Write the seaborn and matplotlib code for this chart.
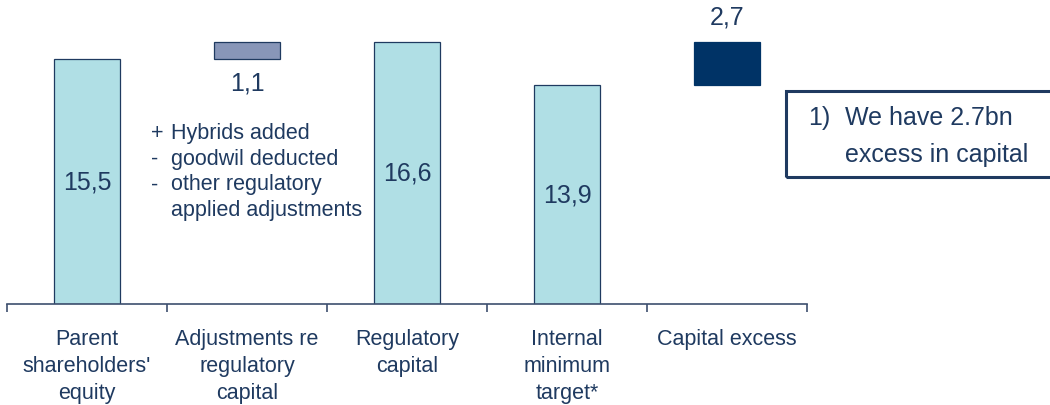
import matplotlib
matplotlib.use("Agg")
import matplotlib.pyplot as plt
from matplotlib.patches import Rectangle
import pandas as pd
import seaborn as sns

# Capital bridge (bn)
categories = ["Parent\nshareholders'\nequity", "Adjustments re\nregulatory\ncapital",
              "Regulatory\ncapital", "Internal\nminimum\ntarget*", "Capital excess"]
totals_cat = [categories[0], categories[2], categories[3]]
totals_val = [15.5, 16.6, 13.9]
adjust_val = 1.1
excess_val = 2.7
value_labels = ["15,5", "1,1", "16,6", "13,9", "2,7"]
adjust_notes = [("+", "Hybrids added"), ("-", "goodwil deducted"),
                ("-", "other regulatory"), ("", "applied adjustments")]
box_lines = ["We have 2.7bn", "excess in capital"]

NAVY = "#1F3A60"
LIGHT = "#B0DFE5"
MID = "#8896B8"
DARK = "#003366"

sns.set_theme(style="white")
plt.rcParams["font.family"] = ["Liberation Sans", "DejaVu Sans"]

fig = plt.figure(figsize=(10.5, 4.06), dpi=100)
ax = fig.add_axes([0.0067, 0.249, 0.762, 0.751])

totals = pd.DataFrame({"cat": totals_cat, "val": totals_val})
sns.barplot(data=totals, x="cat", y="val", order=categories, color=LIGHT,
            saturation=1, width=0.41, edgecolor=NAVY, linewidth=0.9, ax=ax)

adj_base = totals_val[0]
adj = pd.DataFrame({"cat": [categories[1]], "val": [adjust_val]})
sns.barplot(data=adj, x="cat", y="val", order=categories, color=MID,
            saturation=1, width=0.41, edgecolor=NAVY, linewidth=0.9,
            bottom=adj_base, ax=ax)

exc_base = totals_val[2]
exc = pd.DataFrame({"cat": [categories[4]], "val": [excess_val]})
sns.barplot(data=exc, x="cat", y="val", order=categories, color=DARK,
            saturation=1, width=0.41, edgecolor=DARK, linewidth=0.9,
            bottom=exc_base, ax=ax)

ax.set_xlim(-0.5, 4.5)
ax.set_ylim(0, 19.33)
ax.set_xlabel("")
ax.set_ylabel("")
ax.set_yticks([])

# category labels on minor ticks, boundary ticks on major
ax.set_xticks([-0.5, 0.5, 1.5, 2.5, 3.5, 4.5])
ax.set_xticklabels([])
ax.set_xticks(range(len(categories)), minor=True)
ax.set_xticklabels(categories, minor=True, fontsize=15.5, color=NAVY,
                   linespacing=1.38, va="top")
ax.tick_params(axis="x", which="major", direction="out", length=6,
               width=1.2, color="#3D4F6E", bottom=True)
ax.tick_params(axis="x", which="minor", length=0, pad=17)

for side in ["top", "right", "left"]:
    ax.spines[side].set_visible(False)
ax.spines["bottom"].set_color("#3D4F6E")
ax.spines["bottom"].set_linewidth(1.2)

# value labels
ax.text(0, totals_val[0] / 2, value_labels[0], ha="center", va="center",
        fontsize=18, color=NAVY)
ax.text(1, adj_base - 1.45, value_labels[1], ha="center", va="center",
        fontsize=18, color=NAVY)
ax.text(2, totals_val[1] / 2, value_labels[2], ha="center", va="center",
        fontsize=18, color=NAVY)
ax.text(3, totals_val[2] / 2, value_labels[3], ha="center", va="center",
        fontsize=18, color=NAVY)
ax.text(4, exc_base + excess_val + 1.6, value_labels[4], ha="center",
        va="center", fontsize=18, color=NAVY)

# notes on the adjustment bar
for i, (mark, txt) in enumerate(adjust_notes):
    y = 10.85 - i * 1.62
    if mark:
        ax.text(0.40, y, mark, ha="left", va="center", fontsize=15.5, color=NAVY)
    ax.text(0.525, y, txt, ha="left", va="center", fontsize=15.5, color=NAVY)

# callout box
fig.patches.append(Rectangle((0.749, 0.562), 0.27, 0.211, transform=fig.transFigure,
                             fill=False, edgecolor=NAVY, linewidth=2.2,
                             clip_on=False))
fig.text(0.770, 0.709, "1)", ha="left", va="center", fontsize=18, color=NAVY)
fig.text(0.805, 0.709, box_lines[0], ha="left", va="center", fontsize=18, color=NAVY)
fig.text(0.805, 0.619, box_lines[1], ha="left", va="center", fontsize=18, color=NAVY)

fig.savefig("out.png", dpi=100, facecolor="white")
